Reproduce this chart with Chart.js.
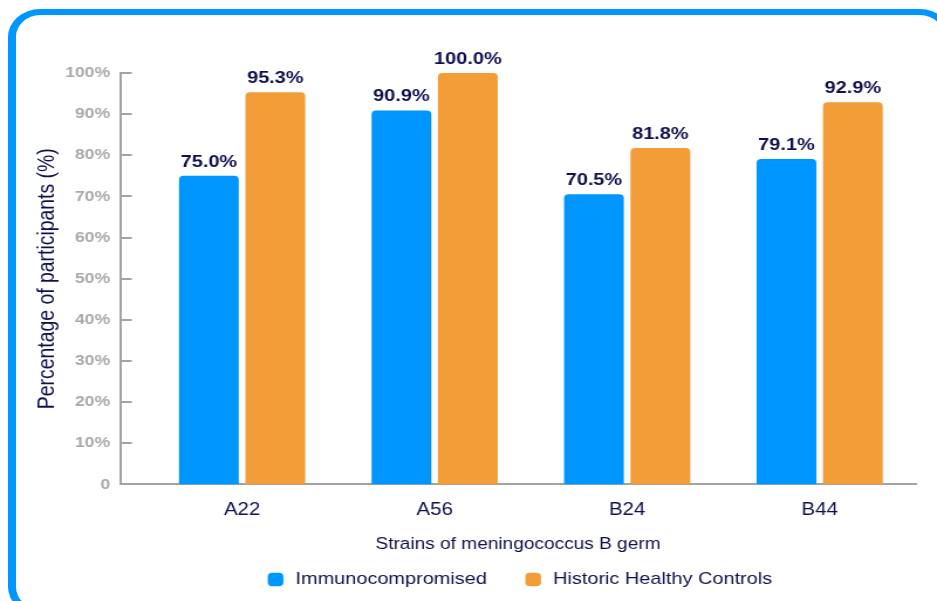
<!DOCTYPE html>
<html>
<head>
<meta charset="utf-8">
<script src="https://cdn.jsdelivr.net/npm/chart.js@4"></script>
<style>
  html, body { margin: 0; padding: 0; background: #fff; overflow: hidden; }
  #frame {
    position: absolute; left: 8px; top: 9px; width: 944px; height: 606px;
    border-style: solid; border-color: #0096ff; border-width: 6px 8px;
    border-radius: 32px / 28px; box-sizing: border-box;
  }
  /* the original picture is stretched sideways, so the chart is drawn narrower and widened */
  #wrap {
    position: absolute; left: 0; top: 0; width: 800px; height: 601px;
    transform: scaleX(1.17125); transform-origin: 0 0;
  }
</style>
</head>
<body>
<div id="frame"></div>
<div id="wrap"><canvas id="myChart" width="800" height="601"></canvas></div>
<script>
const strains = ['A22', 'A56', 'B24', 'B44'];
const immunocompromised = [75.0, 90.9, 70.5, 79.1];
const healthyControls = [95.3, 100.0, 81.8, 92.9];
const seriesNames = ['Immunocompromised', 'Historic Healthy Controls'];

const navy = '#10104f';
const axisGray = '#a3a3a3';

Chart.defaults.font.family = "'Liberation Sans', Arial, sans-serif";

// value labels above each bar
const barLabels = {
  id: 'barLabels',
  afterDatasetsDraw(chart) {
    const ctx = chart.ctx;
    ctx.save();
    ctx.font = "bold 17px 'Liberation Sans', Arial, sans-serif";
    ctx.fillStyle = navy;
    ctx.textAlign = 'center';
    ctx.textBaseline = 'alphabetic';
    chart.data.datasets.forEach((ds, i) => {
      chart.getDatasetMeta(i).data.forEach((bar, j) => {
        ctx.fillText(ds.data[j].y.toFixed(1) + '%', bar.x, bar.y - 9);
      });
    });
    ctx.restore();
  }
};

// short tick marks pointing into the plot
const innerTicks = {
  id: 'innerTicks',
  afterDraw(chart) {
    const ctx = chart.ctx;
    const y = chart.scales.y;
    const left = chart.chartArea.left;
    ctx.save();
    ctx.strokeStyle = axisGray;
    ctx.lineWidth = 2;
    y.ticks.forEach(t => {
      if (t.value === 0) return;
      const py = Math.round(y.getPixelForValue(t.value));
      ctx.beginPath();
      ctx.moveTo(left, py);
      ctx.lineTo(left + 10, py);
      ctx.stroke();
    });
    ctx.restore();
  }
};

// legend sits a little right of the canvas centre
const legendShift = {
  id: 'legendShift',
  afterLayout(chart) {
    chart.legend.left += 41;
    chart.legend.right += 41;
  }
};

const ctx = document.getElementById('myChart').getContext('2d');
new Chart(ctx, {
  type: 'bar',
  data: {
    datasets: [{
      label: seriesNames[0],
      data: immunocompromised.map((v, i) => ({ x: i, y: v })),
      backgroundColor: '#0096ff',
      borderRadius: 4,
      borderSkipped: 'bottom'
    }, {
      label: seriesNames[1],
      data: healthyControls.map((v, i) => ({ x: i, y: v })),
      backgroundColor: '#f29d38',
      borderRadius: 4,
      borderSkipped: 'bottom'
    }]
  },
  options: {
    responsive: false,
    animation: false,
    categoryPercentage: 0.69,
    barPercentage: 0.9,
    layout: { padding: { left: 22, top: 73, right: 18, bottom: 3 } },
    scales: {
      x: {
        type: 'linear',
        offset: false,
        min: -0.634,
        max: 3.5,
        grid: { display: false, drawTicks: false },
        border: { display: true, color: axisGray, width: 2 },
        ticks: {
          stepSize: 1,
          includeBounds: false,
          padding: 15.5,
          color: navy,
          font: { size: 17.5 },
          callback: v => strains[v] !== undefined ? strains[v] : ''
        },
        title: {
          display: true,
          text: 'Strains of meningococcus B germ',
          color: navy,
          font: { size: 16.3 },
          padding: { top: -2, bottom: -14 }
        }
      },
      y: {
        min: 0,
        max: 100,
        grid: { display: false, drawTicks: false },
        border: { display: true, color: axisGray, width: 2 },
        ticks: {
          stepSize: 10,
          padding: 8.5,
          color: '#a9a9a9',
          font: { size: 15, weight: 'bold' },
          callback: v => v === 0 ? '0' : v + '%'
        },
        title: {
          display: true,
          text: 'Percentage of participants (%)',
          color: navy,
          font: { size: 19.4 },
          padding: { top: 7, bottom: 0 }
        },
        afterFit: scale => { scale.width = 80.5; }
      }
    },
    plugins: {
      tooltip: { enabled: false },
      legend: {
        position: 'bottom',
        labels: {
          usePointStyle: true,
          pointStyle: 'rectRounded',
          boxWidth: 17,
          boxHeight: 11,
          padding: 31,
          color: navy,
          font: { size: 17 }
        }
      }
    }
  },
  plugins: [barLabels, innerTicks, legendShift]
});
</script>
</body>
</html>
